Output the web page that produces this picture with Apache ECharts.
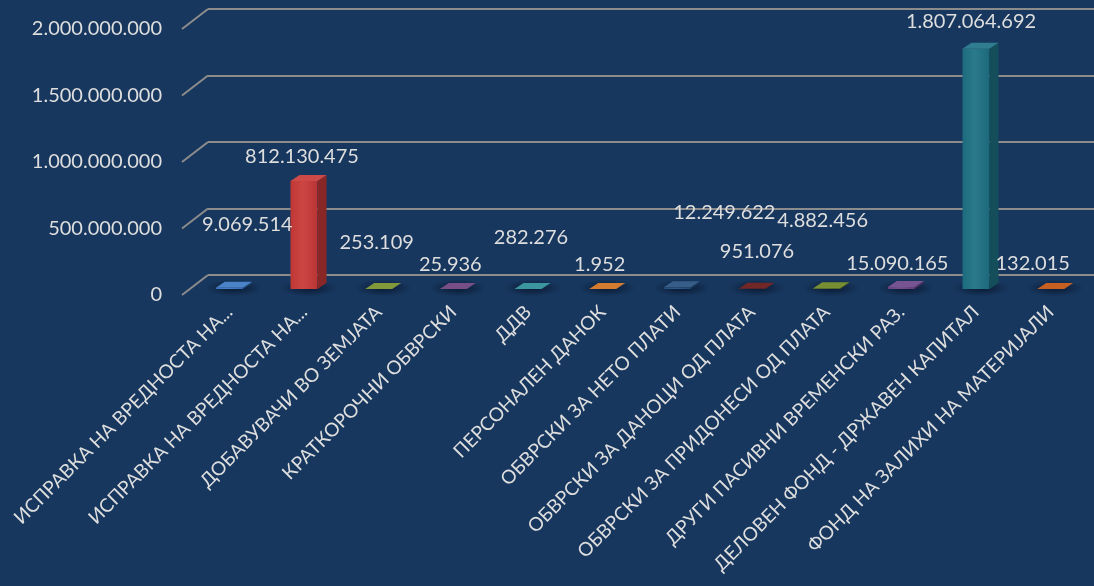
<!DOCTYPE html>
<html><head><meta charset="utf-8">
<script src="https://cdn.jsdelivr.net/npm/echarts@6/dist/echarts.min.js"></script>
<style>html,body{margin:0;padding:0;background:#17375E}#c{width:1094px;height:586px}</style>
</head><body><div id="c"></div>
<script>
const categories = [
  'ИСПРАВКА НА ВРЕДНОСТА НА...',
  'ИСПРАВКА НА ВРЕДНОСТА НА...',
  'ДОБАВУВАЧИ ВО ЗЕМЈАТА',
  'КРАТКОРОЧНИ ОБВРСКИ',
  'ДДВ',
  'ПЕРСОНАЛЕН ДАНОК',
  'ОБВРСКИ ЗА НЕТО ПЛАТИ',
  'ОБВРСКИ ЗА ДАНОЦИ ОД ПЛАТА',
  'ОБВРСКИ ЗА ПРИДОНЕСИ ОД ПЛАТА',
  'ДРУГИ ПАСИВНИ ВРЕМЕНСКИ РАЗ.',
  'ДЕЛОВЕН ФОНД - ДРЖАВЕН КАПИТАЛ',
  'ФОНД НА ЗАЛИХИ НА МАТЕРИЈАЛИ'
];
const values = [9069514, 812130475, 253109, 25936, 282276, 1952, 12249622, 951076, 4882456, 15090165, 1807064692, 132015];
const yTicks = [0, 500000000, 1000000000, 1500000000, 2000000000];

// styling (not data)
const barColors = ['#3b78c4','#c93a38','#76902a','#6b3f7c','#2b8d98','#cf6f1c','#24507f','#661414','#6c8420','#6a4487','#1d7285','#c0520f'];
const labelOffsets = [[18,-63],[-2,-24],[-2,-46],[-3,-24],[3,-51],[-3,-24],[47,-75],[5,-37],[-4,-68],[-4,-23],[-5,-27],[-18,-25]];

const FONT = 'Lato, "Noto Sans", sans-serif';
const TXT = '#dedede';
function fmt(v){ return String(v).replace(/\B(?=(\d{3})+(?!\d))/g,'.'); }
function shade(hex, f){
  const n = parseInt(hex.slice(1),16);
  let r=(n>>16)&255,g=(n>>8)&255,b=n&255;
  const t = f<0?0:255, p=Math.abs(f);
  r=Math.round((t-r)*p+r); g=Math.round((t-g)*p+g); b=Math.round((t-b)*p+b);
  return 'rgb('+r+','+g+','+b+')';
}

const W = 27, DX = 9, DY = -6;
function renderBar(params, api){
  const i = api.value(0), v = api.value(1);
  const base = api.coord([i, 0]), top = api.coord([i, v]);
  const x0 = base[0]-W/2, x1 = x0+W, yT = top[1], yB = base[1];
  const c = barColors[i];
  const kids = [];
  kids.push({type:'circle', x: base[0]+DX/2, y: yB+DY/2+2, scaleY:0.3,
    shape:{cx:0,cy:0,r:W*1.05},
    style:{fill:{type:'radial',x:0.5,y:0.5,r:0.5,colorStops:[{offset:0,color:'rgba(5,15,35,0.75)'},{offset:1,color:'rgba(5,15,35,0)'}]}}});
  if (yB-yT > 0.5){
    kids.push({type:'rect', shape:{x:x0,y:yT,width:W,height:yB-yT},
      style:{fill:{type:'linear',x:0,y:0,x2:1,y2:0,colorStops:[{offset:0,color:shade(c,-0.05)},{offset:0.45,color:shade(c,0.06)},{offset:1,color:shade(c,-0.08)}]}}});
    kids.push({type:'polygon', shape:{points:[[x1,yT],[x1+DX,yT+DY],[x1+DX,yB+DY],[x1,yB]]},
      style:{fill:shade(c,-0.32)}});
  }
  kids.push({type:'polygon', shape:{points:[[x0,yT],[x0+DX,yT+DY],[x1+DX,yT+DY],[x1,yT]]},
    style:{fill:shade(c,0.08)}});
  return {type:'group', children:kids};
}
function renderLabel(params, api){
  const i = api.value(0), v = api.value(1);
  const base = api.coord([i, 0]), top = api.coord([i, v]);
  const o = labelOffsets[i];
  return {type:'text', x: base[0]+o[0], y: top[1]+o[1],
    style:{text: fmt(v), fill: TXT, fontSize: 20, fontFamily: FONT, align:'center', verticalAlign:'middle'}};
}
function renderDiag(params, api){
  const p = api.coord([0, api.value(1)]);
  const x = params.coordSys.x;
  return {type:'line', shape:{x1:x, y1:p[1], x2:x+26, y2:p[1]-20},
    style:{stroke:'#8c8c8c', lineWidth:2}};
}

const chart = echarts.init(document.getElementById('c'), null, {renderer:'canvas'});
const hiddenY = {type:'value', min:0, max:2000000000, interval:500000000, axisLabel:{show:false}, axisLine:{show:false}, axisTick:{show:false}, splitLine:{show:false}};
chart.setOption({
  backgroundColor:'#17375E',
  animation:false,
  grid:[
    {left:182, right:0, top:29, bottom:291, outerBoundsMode:'none', containLabel:false},
    {left:208, right:0, top:9, bottom:311, outerBoundsMode:'none', containLabel:false},
    {left:192, right:6, top:23, bottom:297, outerBoundsMode:'none', containLabel:false}
  ],
  xAxis:[
    {gridIndex:0, type:'category', data:categories, show:false},
    {gridIndex:1, type:'category', data:categories, show:false},
    {gridIndex:2, type:'category', data:categories, axisLine:{show:false}, axisTick:{show:false},
      axisLabel:{interval:0, rotate:45, margin:20, color:TXT, fontSize:19, fontFamily:FONT}}
  ],
  yAxis:[
    {gridIndex:0, type:'value', min:0, max:2000000000, interval:500000000, axisLine:{show:false}, axisTick:{show:false}, splitLine:{show:false},
      axisLabel:{margin:20, color:TXT, fontSize:20, fontFamily:FONT, formatter:fmt}},
    Object.assign({}, hiddenY, {gridIndex:1, splitLine:{show:true, lineStyle:{color:'#8c8c8c', width:2}}}),
    Object.assign({}, hiddenY, {gridIndex:2})
  ],
  series:[
    {type:'custom', xAxisIndex:0, yAxisIndex:0, renderItem:renderDiag, data:yTicks.map(v=>[0,v]), z:1, silent:true},
    {type:'custom', xAxisIndex:2, yAxisIndex:2, renderItem:renderBar, data:values.map((v,i)=>[i,v]), z:3, silent:true},
    {type:'custom', xAxisIndex:2, yAxisIndex:2, renderItem:renderLabel, data:values.map((v,i)=>[i,v]), z:5, silent:true}
  ]
});
</script>
</body></html>
